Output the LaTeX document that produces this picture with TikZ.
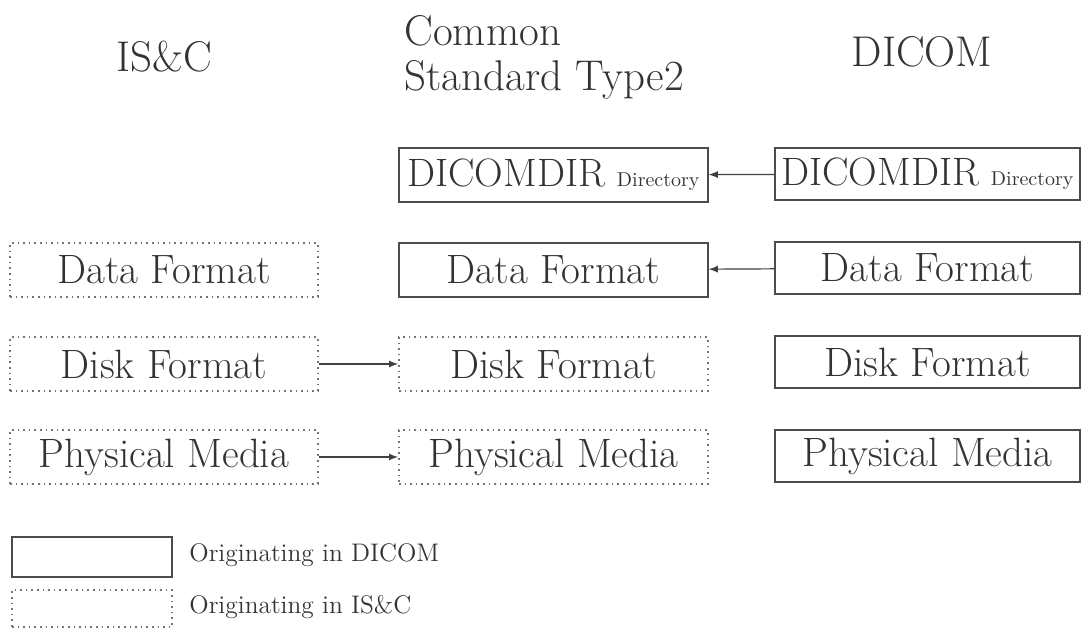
\documentclass[tikz,border=0pt]{standalone}
\usetikzlibrary{shapes,arrows}

\newcommand{\lbl}{\fontsize{20.5}{24}\selectfont}
\newcommand{\hdr}{\fontsize{21.5}{22.5}\selectfont}
\newcommand{\dirlbl}{\fontsize{19.8}{24}\selectfont DICOMDIR {\fontsize{10}{12}\selectfont Directory}}

\begin{document}
\begin{tikzpicture}[x=0.5pt, y=-0.5pt, >=latex, thick,
  txt/.style={text=black!80},
  dcm/.style={draw=black!70, line width=0.6pt, minimum height=27pt, inner sep=0pt, text=black!80},
  isc/.style={draw=black!55, dotted, line width=0.8pt, minimum height=27pt, inner sep=0pt, text=black!80},
  flow/.style={->, draw=black!75, line width=0.6pt}]

\useasboundingbox (0,0) rectangle (1082,628);

% column titles
\node[txt, font=\hdr] (T1) at (164,57) {IS\&C};
\node[txt, font=\hdr, align=left, anchor=west] (T2) at (397,57) {Common\\Standard Type2};
\node[txt, font=\hdr] (T3) at (922,52) {DICOM};

% IS&C
\node[isc, minimum width=154pt] (A2) at (164,270) {\lbl Data Format};
\node[isc, minimum width=154pt] (A3) at (164,364) {\lbl Disk Format};
\node[isc, minimum width=154pt] (A4) at (164,457) {\lbl Physical Media};

% Common Standard Type2
\node[dcm, minimum width=154.5pt] (B1) at (553.5,175) {\dirlbl};
\node[dcm, minimum width=154.5pt] (B2) at (553.5,270) {\lbl Data Format};
\node[isc, minimum width=154.5pt] (B3) at (553.5,364) {\lbl Disk Format};
\node[isc, minimum width=154.5pt] (B4) at (553.5,457) {\lbl Physical Media};

% DICOM
\node[dcm, minimum width=152.5pt, minimum height=26pt] (C1) at (927.5,174) {\dirlbl};
\node[dcm, minimum width=152.5pt, minimum height=26pt] (C2) at (927.5,268) {\lbl Data Format};
\node[dcm, minimum width=152.5pt, minimum height=26pt] (C3) at (927.5,362) {\lbl Disk Format};
\node[dcm, minimum width=152.5pt, minimum height=26pt] (C4) at (927.5,456) {\lbl Physical Media};

% arrows
\draw[flow] (C1) -- (B1);
\draw[flow] (C2) -- (B2);
\draw[flow] (A3) -- (B3);
\draw[flow] (A4) -- (B4);

% legend
\node[dcm, minimum width=80pt, minimum height=20pt] (L1) at (92,557) {};
\node[isc, minimum width=80pt, minimum height=18.5pt] (L2) at (92,608.5) {};
\node[txt, anchor=west] (L1t) at (182,555) {\fontsize{12.7}{14}\selectfont Originating in DICOM};
\node[txt, anchor=west] (L2t) at (182,607) {\fontsize{12.7}{14}\selectfont Originating in IS\&C};

\end{tikzpicture}
\end{document}
